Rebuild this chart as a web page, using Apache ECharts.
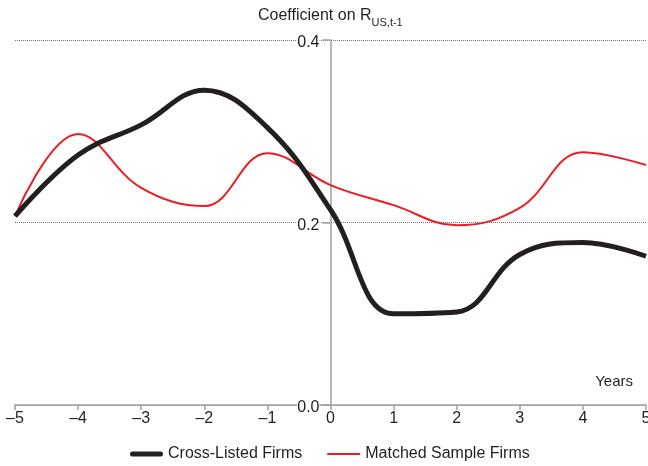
<!DOCTYPE html>
<html>
<head>
<meta charset="utf-8">
<script src="https://cdn.jsdelivr.net/npm/echarts@6/dist/echarts.min.js"></script>
<style>
  html, body { margin: 0; padding: 0; background: #fff; }
  #chart { width: 648px; height: 466px; }
</style>
</head>
<body>
<div id="chart"></div>
<script>
// years relative to listing
const years = [-5, -4, -3, -2, -1, 0, 1, 2, 3, 4, 5];
// coefficient on R_US,t-1
const crossListed = [0.207, 0.274, 0.307, 0.345, 0.304, 0.214, 0.100, 0.102, 0.165, 0.178, 0.163];
const matched = [0.207, 0.297, 0.238, 0.218, 0.276, 0.241, 0.219, 0.197, 0.216, 0.277, 0.263];
const yTicks = [0, 0.2, 0.4];

const chart = echarts.init(document.getElementById('chart'));
const font = 'Liberation Sans, Arial, sans-serif';
const txt = '#231f20';
const axisGray = '#a0a0a0';
const gridLeft = 15, gridRight = 2;
const plotW = 648 - gridLeft - gridRight;

const option = {
  animation: false,
  textStyle: { fontFamily: font, color: txt },
  title: {
    text: '{a|Coefficient on R}{b|US,t-1}',
    left: 253,
    top: -1,
    textStyle: {
      fontWeight: 'normal',
      rich: {
        a: { fontSize: 16, color: txt, fontFamily: font, fontWeight: 'normal', verticalAlign: 'bottom', lineHeight: 20 },
        b: { fontSize: 11, color: txt, fontFamily: font, fontWeight: 'normal', verticalAlign: 'bottom', lineHeight: 14, padding: [0, 0, -4, 0] }
      }
    }
  },
  graphic: [{
    type: 'text', right: 15, top: 374,
    style: { text: 'Years', fontSize: 15, fill: txt, fontFamily: font }
  }],
  legend: {
    top: 441,
    left: 125,
    itemWidth: 33,
    itemHeight: 12,
    itemGap: 25,
    textStyle: { fontSize: 16, color: txt, fontFamily: font },
    data: [
      { name: 'Cross-Listed Firms', icon: 'path://M2.5,0 H30.5 A2.5,2.5 0 0 1 30.5,5 H2.5 A2.5,2.5 0 0 1 2.5,0 Z' },
      { name: 'Matched Sample Firms', icon: 'path://M0,0 H33 V2 H0 Z' }
    ]
  },
  grid: { left: gridLeft, right: gridRight, top: 40, bottom: 61, containLabel: false, outerBoundsMode: 'none' },
  xAxis: {
    type: 'value',
    min: -5, max: 5, interval: 1,
    axisLine: { onZero: true, lineStyle: { color: axisGray, width: 1.5 } },
    axisTick: { show: true, length: 5, lineStyle: { color: axisGray, width: 1.5 } },
    axisLabel: {
      fontSize: 16, color: txt, margin: 6,
      formatter: v => v < 0 ? '\u2013' + Math.abs(v) : String(v)
    },
    splitLine: { show: false }
  },
  yAxis: {
    type: 'value',
    position: 'left',
    offset: -plotW / 2,
    min: yTicks[0], max: yTicks[yTicks.length - 1], interval: 0.2,
    axisLine: { show: true, onZero: false, lineStyle: { color: axisGray, width: 1.5 } },
    axisTick: { show: true, length: 8, lineStyle: { color: axisGray, width: 1.5 } },
    axisLabel: {
      color: txt, margin: 11,
      formatter: v => '{v|' + v.toFixed(1) + '}',
      rich: {
        v: { fontSize: 16, color: txt, fontFamily: font, backgroundColor: '#fff', padding: [6, 0, 0, 0] }
      }
    },
    splitLine: { show: true, lineStyle: { color: '#777', type: [1, 1], width: 1 } }
  },
  series: [
    {
      name: 'Cross-Listed Firms',
      type: 'line',
      smooth: 0.4,
      symbol: 'none',
      color: '#231f20',
      lineStyle: { width: 5, color: '#231f20' },
      data: years.map((x, i) => [x, crossListed[i]]),
      z: 3
    },
    {
      name: 'Matched Sample Firms',
      type: 'line',
      smooth: 0.4,
      symbol: 'none',
      color: '#ed1c24',
      lineStyle: { width: 2, color: '#ed1c24' },
      data: years.map((x, i) => [x, matched[i]]),
      z: 2
    }
  ]
};
chart.setOption(option);
</script>
</body>
</html>
